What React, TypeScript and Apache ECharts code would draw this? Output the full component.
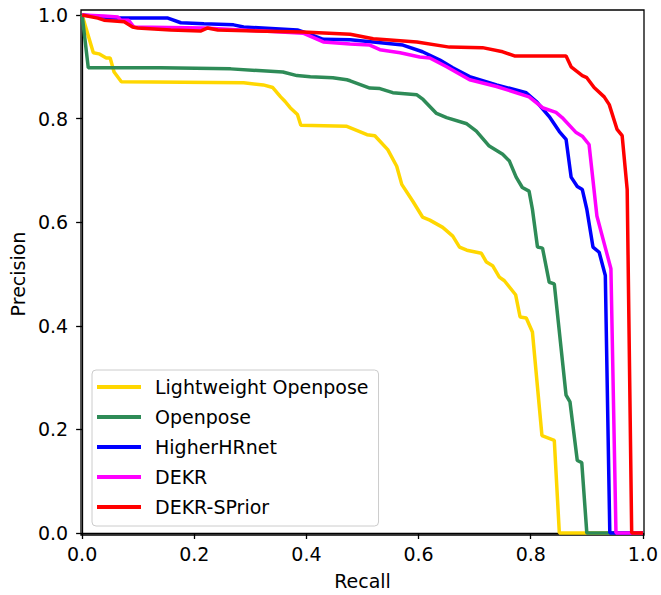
import React, { useEffect, useRef } from "react";
import * as echarts from "echarts";

const seriesNames = ["Lightweight Openpose", "Openpose", "HigherHRnet", "DEKR", "DEKR-SPrior"];
const seriesColors = ["#FFD700", "#2E8B57", "#0000FF", "#FF00FF", "#FF0000"];
const axisTicks = [0, 0.2, 0.4, 0.6, 0.8, 1.0];

const lwRecall = [0, 0.02, 0.03, 0.043, 0.05, 0.057, 0.07, 0.288, 0.323, 0.34, 0.354, 0.362, 0.371, 0.384, 0.39, 0.472, 0.495, 0.508, 0.522, 0.545, 0.561, 0.57, 0.59, 0.607, 0.62, 0.643, 0.661, 0.673, 0.686, 0.712, 0.721, 0.732, 0.744, 0.753, 0.773, 0.781, 0.792, 0.803, 0.82, 0.842, 0.851, 1.0];
const lwPrecision = [1.0, 0.927, 0.925, 0.917, 0.917, 0.89, 0.871, 0.869, 0.865, 0.86, 0.842, 0.833, 0.821, 0.808, 0.787, 0.785, 0.775, 0.769, 0.767, 0.74, 0.708, 0.673, 0.64, 0.61, 0.604, 0.59, 0.573, 0.552, 0.546, 0.54, 0.523, 0.516, 0.494, 0.487, 0.46, 0.417, 0.415, 0.388, 0.188, 0.179, 0.0, 0.0];

const opRecall = [0, 0.011, 0.14, 0.265, 0.358, 0.383, 0.407, 0.447, 0.472, 0.478, 0.513, 0.531, 0.554, 0.597, 0.608, 0.632, 0.65, 0.686, 0.703, 0.726, 0.75, 0.762, 0.774, 0.785, 0.797, 0.803, 0.812, 0.821, 0.833, 0.842, 0.863, 0.87, 0.883, 0.891, 0.9, 1.0];
const opPrecision = [1.0, 0.898, 0.898, 0.896, 0.89, 0.883, 0.881, 0.879, 0.875, 0.873, 0.859, 0.858, 0.85, 0.846, 0.837, 0.81, 0.802, 0.79, 0.776, 0.747, 0.731, 0.718, 0.687, 0.667, 0.66, 0.625, 0.552, 0.55, 0.484, 0.481, 0.266, 0.253, 0.14, 0.136, 0.0, 0.0];

const hrRecall = [0, 0.057, 0.153, 0.176, 0.217, 0.27, 0.288, 0.384, 0.401, 0.43, 0.478, 0.519, 0.572, 0.607, 0.638, 0.661, 0.691, 0.739, 0.792, 0.81, 0.833, 0.851, 0.863, 0.872, 0.883, 0.892, 0.9, 0.911, 0.922, 0.933, 0.941, 1.0];
const hrPrecision = [1.0, 0.994, 0.994, 0.985, 0.983, 0.981, 0.977, 0.971, 0.965, 0.953, 0.952, 0.948, 0.942, 0.929, 0.913, 0.898, 0.881, 0.865, 0.85, 0.833, 0.804, 0.775, 0.76, 0.687, 0.669, 0.663, 0.625, 0.552, 0.542, 0.497, 0.0, 0.0];

const dekrRecall = [0, 0.039, 0.064, 0.069, 0.083, 0.092, 0.217, 0.394, 0.43, 0.478, 0.513, 0.531, 0.567, 0.602, 0.62, 0.65, 0.691, 0.739, 0.797, 0.821, 0.845, 0.856, 0.881, 0.892, 0.904, 0.918, 0.943, 0.952, 1.0];
const dekrPrecision = [1.0, 0.998, 0.996, 0.99, 0.99, 0.977, 0.975, 0.965, 0.948, 0.944, 0.942, 0.933, 0.927, 0.919, 0.917, 0.9, 0.875, 0.862, 0.842, 0.821, 0.812, 0.802, 0.773, 0.766, 0.75, 0.612, 0.51, 0.0, 0.0];

const spRecall = [0, 0.028, 0.039, 0.075, 0.09, 0.099, 0.158, 0.211, 0.224, 0.242, 0.394, 0.478, 0.519, 0.597, 0.655, 0.714, 0.75, 0.771, 0.863, 0.872, 0.892, 0.9, 0.913, 0.931, 0.94, 0.954, 0.963, 0.972, 0.98, 1.0];
const spPrecision = [1.0, 0.994, 0.99, 0.987, 0.977, 0.975, 0.971, 0.969, 0.975, 0.971, 0.967, 0.963, 0.954, 0.948, 0.938, 0.937, 0.929, 0.921, 0.921, 0.9, 0.883, 0.879, 0.86, 0.842, 0.827, 0.779, 0.767, 0.663, 0.0, 0.0];

const allRecall = [lwRecall, opRecall, hrRecall, dekrRecall, spRecall];
const allPrecision = [lwPrecision, opPrecision, hrPrecision, dekrPrecision, spPrecision];

const FONT = "DejaVu Sans";

export default function App() {
  const ref = useRef<HTMLDivElement>(null);
  useEffect(() => {
    if (!ref.current) return;
    const chart = echarts.init(ref.current, undefined, { renderer: "svg" });
    const fmt = (v: number) => (axisTicks.some((t) => Math.abs(t - v) < 1e-9) ? v.toFixed(1) : "");
    const option: any = {
      animation: false,
      backgroundColor: "#fff",
      grid: { left: 81, right: 17, top: 15, bottom: 60, show: false },
      legend: {
        data: seriesNames,
        orient: "vertical",
        left: 92,
        top: 370,
        icon: "rect",
        itemWidth: 44,
        itemHeight: 4,
        itemGap: 8,
        padding: [6, 10, 8, 5],
        backgroundColor: "rgba(255,255,255,0.8)",
        borderColor: "#cccccc",
        borderWidth: 1,
        borderRadius: 4,
        textStyle: { fontFamily: FONT, fontSize: 19, color: "#000", lineHeight: 22, padding: [0, 0, 0, 9] },
      },
      xAxis: {
        type: "value",
        min: 0,
        max: 1,
        interval: 0.2,
        name: "Recall",
        nameLocation: "middle",
        nameGap: 38,
        nameTextStyle: { fontFamily: FONT, fontSize: 19, color: "#000" },
        axisLine: { show: true, lineStyle: { color: "#000", width: 1.3 } },
        axisTick: { show: true, length: 6, lineStyle: { color: "#000", width: 1.3 } },
        axisLabel: { fontFamily: FONT, fontSize: 19, color: "#000", margin: 11, formatter: fmt },
        splitLine: { show: false },
      },
      yAxis: {
        type: "value",
        min: 0,
        max: 1,
        interval: 0.2,
        name: "Precision",
        nameLocation: "middle",
        nameGap: 54,
        nameTextStyle: { fontFamily: FONT, fontSize: 19, color: "#000" },
        axisLine: { show: true, lineStyle: { color: "#000", width: 1.3 } },
        axisTick: { show: true, length: 6, lineStyle: { color: "#000", width: 1.3 } },
        axisLabel: { fontFamily: FONT, fontSize: 19, color: "#000", margin: 14, formatter: fmt },
        splitLine: { show: false },
      },
      graphic: [
        {
          type: "rect",
          shape: { x: 81, y: 10, width: 563, height: 525 },
          style: { fill: "none", stroke: "#000", lineWidth: 1.3 },
          silent: true,
          z: 0,
        },
      ],
      series: seriesNames.map((name, i) => ({
        name,
        type: "line",
        showSymbol: false,
        symbol: "none",
        clip: false,
        color: seriesColors[i],
        lineStyle: { color: seriesColors[i], width: 3.5 },
        data: allRecall[i].map((r, j) => [r, allPrecision[i][j]]),
        z: 2 + i,
      })),
    };
    chart.setOption(option);
    return () => chart.dispose();
  }, []);
  return <div ref={ref} style={{ position: "fixed", left: 0, top: 0, width: 661, height: 595 }} />;
}
